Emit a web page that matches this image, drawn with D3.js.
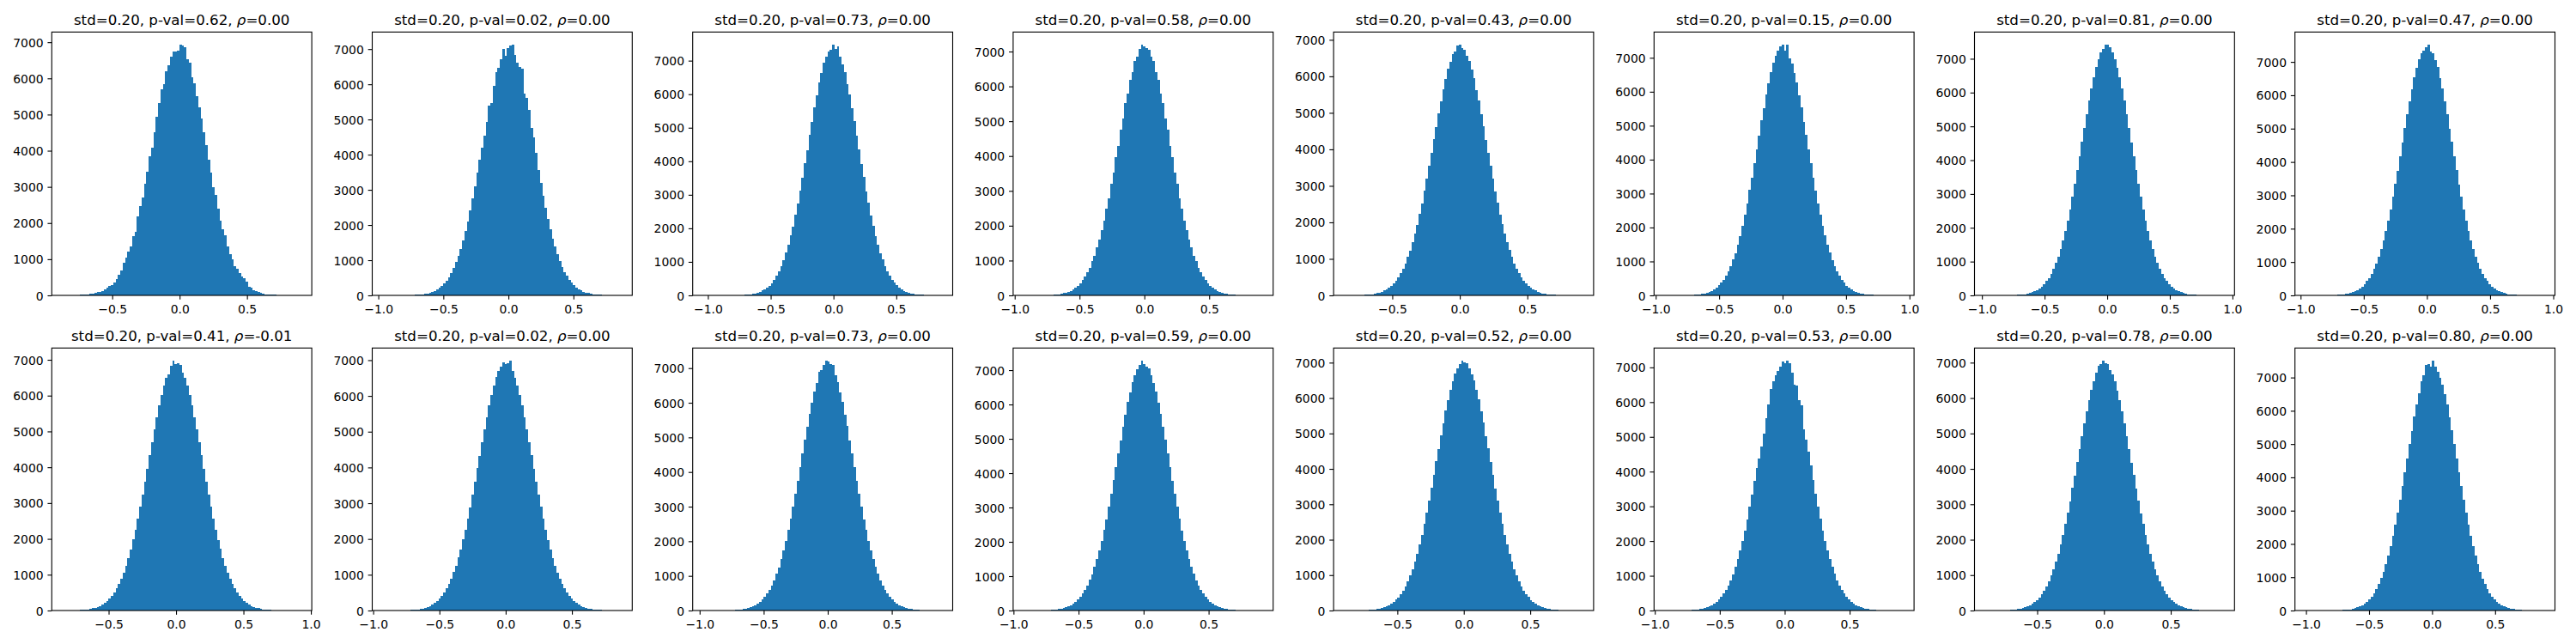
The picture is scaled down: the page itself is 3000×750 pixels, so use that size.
<!DOCTYPE html>
<html>
<head>
<meta charset="utf-8">
<script src="https://cdn.jsdelivr.net/npm/d3@7"></script>
<style>
  body { margin: 0; background: #fff; }
  svg { display: block; }
</style>
</head>
<body>
<div id="chart"></div>
<script>
// bin counts (100 bins per panel, left to right)
const hist01 = [1,0,1,2,3,5,10,14,20,25, 32,42,55,80,85,95,125,175,225,255, 290,355,450,570,690,900,1045,1200,1360,1640, 1760,2180,2470,2710,3090,3420,3840,4080,4510,4940, 5320,5700,5835,6190,6370,6590,6745,6745,6770,6935, 6920,6865,6530,6430,6030,5860,5500,5200,4900,4505, 4150,3740,3400,2985,2770,2390,2075,1840,1665,1345, 1150,1005,810,730,610,515,475,370,240,215, 150,120,95,80,50,30,25,20,15,12, 10,8,5,3,2,2,1,1,0,1];
const hist02 = [1,0,0,0,0,1,1,1,2,3, 5,6,9,13,18,24,33,43,58,76, 100,130,167,212,270,340,420,520,640,780, 940,1120,1330,1560,1820,2110,2420,2750,3110,3480, 3860,4200,4548,4932,5396,5469,5957,6348,6470,6714, 7007,6812,7031,7104,7129,6836,6616,6494,6445,5737, 5615,5273,4761,4492,4050,3560,3190,2830,2490,2180, 1890,1620,1380,1170,980,810,670,550,440,356, 284,225,176,137,106,81,62,46,35,25, 19,13,10,7,5,3,2,1,1,1];
const hist03 = [1,0,0,0,0,0,0,1,0,1, 1,2,3,5,7,10,12,19,24,33, 46,59,82,104,141,178,234,293,370,472, 585,710,880,1050,1280,1500,1780,2060,2410,2730, 3130,3500,3940,4330,4790,5170,5600,5960,6350,6620, 6930,7130,7270,7330,7480,7350,7430,7120,6900,6660, 6310,5990,5570,5200,4760,4360,3910,3530,3110,2760, 2380,2080,1760,1510,1260,1065,870,720,580,470, 372,300,230,182,137,107,80,61,44,34, 23,18,13,9,7,4,3,2,1,1];
const hist04 = [1,0,0,1,1,1,3,4,5,7, 9,12,19,24,35,44,62,77,106,131, 175,216,283,345,441,531,667,792,975,1140, 1378,1590,1885,2140,2495,2790,3200,3520,3965,4300, 4760,5080,5520,5800,6190,6420,6730,6850,7070,7200, 7150,7090,7050,6850,6720,6410,6190,5800,5510,5080, 4750,4300,3960,3520,3200,2790,2500,2140,1885,1590, 1380,1140,975,790,665,530,440,345,282,217, 174,131,105,77,61,44,35,24,19,12, 9,6,5,4,2,1,1,0,0,1];
const hist05 = [1,1,2,3,4,5,8,10,14,19, 25,35,44,60,77,100,132,163,211,262, 330,404,502,603,736,875,1050,1230,1455,1690, 1940,2230,2520,2860,3190,3550,3900,4280,4620,4990, 5310,5650,5920,6200,6400,6600,6690,6850,6870,6780, 6720,6570,6420,6180,5940,5630,5330,4970,4640,4260, 3910,3540,3200,2850,2535,2220,1950,1685,1450,1235, 1050,875,735,605,500,405,330,262,210,164, 131,100,79,58,46,33,26,18,14,10, 8,5,4,3,2,1,1,0,1,1];
const hist06 = [1,0,1,0,1,1,2,3,4,7, 9,12,18,23,34,45,58,81,104,136, 180,228,296,368,466,574,712,860,1050,1240, 1500,1750,2040,2380,2700,3100,3460,3890,4310,4700, 5150,5520,5930,6250,6580,6860,7050,7210,7330,7390, 7200,7390,6990,6840,6560,6280,5900,5540,5120,4730, 4290,3900,3470,3090,2710,2370,2040,1760,1485,1260, 1045,870,705,578,462,372,290,232,176,138, 104,81,58,46,32,25,17,13,9,7, 4,3,2,1,1,1,0,0,0,1];
const hist07 = [1,0,0,1,0,1,1,1,2,4, 5,7,11,14,21,29,37,53,70,91, 122,157,206,258,333,420,520,645,790,955, 1150,1380,1630,1905,2220,2550,2920,3300,3700,4110, 4540,4950,5360,5760,6120,6460,6750,6980,7180,7290, 7420,7420,7350,7200,6990,6740,6460,6120,5760,5360, 4950,4530,4120,3700,3300,2910,2550,2220,1910,1620, 1380,1150,960,785,645,520,420,330,262,204, 157,121,93,68,52,38,28,20,15,10, 7,5,4,2,1,1,1,0,0,1];
const hist08 = [1,0,0,0,1,1,1,2,2,4, 5,8,10,15,21,27,40,51,71,92, 125,158,207,262,338,425,525,650,800,965, 1170,1390,1650,1930,2250,2580,2950,3350,3740,4170, 4580,5020,5420,5830,6190,6550,6830,7080,7260,7330, 7450,7520,7300,7270,7060,6840,6520,6210,5820,5430, 5000,4600,4160,3750,3330,2960,2580,2240,1935,1640, 1395,1165,970,795,655,525,425,332,266,204, 161,121,94,69,53,38,29,20,15,10, 7,5,4,2,1,1,0,1,0,1];
const hist09 = [1,2,3,4,6,8,10,14,19,26, 35,46,60,78,103,130,167,210,268,330, 415,505,620,745,885,1060,1250,1470,1710,1980, 2260,2570,2890,3240,3600,3960,4330,4700,5050,5400, 5720,6010,6290,6500,6600,6830,6980,6870,6910,6860, 6630,6500,6280,6020,5730,5400,5060,4690,4340,3960, 3600,3240,2900,2565,2260,1975,1715,1470,1255,1060, 890,745,615,505,412,333,266,211,168,130, 102,78,60,46,35,26,19,14,10,8, 6,4,3,2,1,1,1,0,0,1];
const hist10 = [1,0,1,1,1,2,3,4,6,8, 11,13,19,27,34,47,59,80,104,131, 170,210,268,330,415,508,615,748,885,1070, 1250,1480,1710,1985,2255,2580,2890,3250,3600,3975, 4330,4710,5060,5410,5730,6030,6280,6520,6700,6830, 6940,6880,6920,6990,6700,6500,6300,6020,5740,5400, 5070,4700,4340,3960,3610,3240,2900,2575,2260,1980, 1710,1475,1255,1065,890,745,618,505,413,333, 268,212,168,131,103,79,60,46,35,26, 19,14,10,8,6,4,3,2,1,1];
const hist11 = [1,0,0,0,1,0,1,2,3,4, 6,8,11,16,21,30,40,51,68,91, 118,152,196,250,315,390,485,600,725,880, 1060,1250,1490,1740,2010,2320,2650,3000,3370,3750, 4130,4540,4930,5300,5680,6000,6330,6580,6900,6950, 7100,7220,7190,7110,7090,6790,6590,6310,6020,5660, 5320,4920,4540,4140,3740,3370,3000,2640,2320,2020, 1730,1490,1255,1060,875,730,592,488,390,316, 245,197,150,118,88,70,51,39,30,21, 16,11,8,6,4,3,2,1,1,1];
const hist12 = [1,0,1,1,1,2,3,4,6,9, 11,17,21,29,40,51,70,93,117,155, 195,252,315,392,488,604,730,890,1060,1270, 1490,1760,2020,2340,2660,3030,3390,3790,4170,4580, 4960,5360,5710,6070,6360,6650,6860,7030,7150,7280, 7180,7100,7050,6850,6630,6380,6050,5720,5350,4970, 4570,4180,3770,3400,3020,2670,2330,2035,1750,1500, 1265,1070,885,735,600,492,392,318,248,198, 152,119,90,70,51,40,28,22,16,12, 8,6,4,3,2,1,1,0,1,1];
const hist13 = [1,1,1,1,2,4,5,6,9,12, 17,23,29,40,53,69,92,118,150,192, 240,305,373,465,568,685,830,985,1170,1380, 1605,1860,2145,2440,2770,3100,3470,3820,4210,4570, 4950,5290,5640,5950,6240,6470,6690,6830,6960,7060, 7020,6980,6850,6680,6490,6230,5960,5630,5300,4930, 4580,4190,3830,3455,3110,2760,2445,2140,1865,1605, 1378,1165,990,825,688,565,462,376,302,242, 190,152,116,91,70,52,40,30,22,17, 12,9,6,5,3,2,1,1,0,1];
const hist14 = [1,0,1,1,1,2,3,4,6,8, 11,16,21,29,38,52,70,88,116,150, 196,248,310,390,485,595,725,876,1050,1250, 1480,1725,2010,2310,2630,2990,3350,3730,4092,4387, 4733,5102,5546,5940,6384,6606,6778,6902,7025,7173, 7116,7198,7124,6852,6507,6482,6064,5916,5226,4930, 4585,4166,3760,3360,2980,2640,2300,2010,1725,1480, 1250,1055,875,725,590,485,388,314,245,195, 150,118,89,68,52,38,29,21,16,11, 8,6,4,3,2,1,1,0,0,1];
const hist15 = [1,0,1,1,2,3,5,6,9,12, 17,23,30,39,53,71,90,118,151,190, 241,300,375,462,566,683,826,987,1165,1375, 1600,1860,2130,2440,2760,3090,3460,3810,4190,4560, 4930,5280,5630,5930,6220,6470,6720,6900,6950,7060, 6990,6950,6800,6660,6470,6210,5940,5620,5290,4920, 4570,4180,3820,3450,3100,2750,2440,2130,1860,1600, 1375,1165,985,826,683,565,460,375,300,241, 190,151,116,92,69,54,40,30,22,17, 12,9,6,5,3,2,1,1,0,1];
const hist16 = [1,0,0,0,0,0,0,0,1,1, 2,4,5,7,10,15,20,29,38,53, 70,92,123,158,207,266,334,420,528,650, 795,970,1160,1390,1645,1925,2240,2580,2940,3340, 3730,4150,4570,5010,5400,5820,6190,6530,6880,7060, 7380,7400,7330,7510,7330,7180,6990,6780,6510,6180, 5800,5410,5000,4570,4160,3730,3320,2950,2570,2240, 1925,1640,1390,1165,965,795,650,528,420,335, 265,205,160,122,92,70,52,39,28,21, 15,10,7,5,4,2,1,1,0,1];

// lowest and highest bin edge of each panel
const binLo = [-0.861, -0.956, -1.027, -0.921, -0.847, -0.920, -0.965, -0.951,
               -0.834, -0.918, -0.962, -0.912, -0.891, -0.915, -0.881, -0.994];
const binHi = [0.893, 0.861, 0.855, 0.902, 0.903, 0.943, 0.922, 0.920,
               0.919, 0.866, 0.883, 0.905, 0.888, 0.905, 0.889, 0.881];

// title parts
const stdLabel = "0.20";
const pvalLabels = ["0.62", "0.02", "0.73", "0.58", "0.43", "0.15", "0.81", "0.47",
                    "0.41", "0.02", "0.73", "0.59", "0.52", "0.53", "0.78", "0.80"];
const rhoLabels = ["0.00", "0.00", "0.00", "0.00", "0.00", "0.00", "0.00", "0.00",
                   "-0.01", "0.00", "0.00", "0.00", "0.00", "0.00", "0.00", "0.00"];

const histograms = [hist01, hist02, hist03, hist04, hist05, hist06, hist07, hist08,
                    hist09, hist10, hist11, hist12, hist13, hist14, hist15, hist16];

var width = 3000, height = 750;
var colLeft0 = 60.3, colStep = 373.2, axW = 302.8;
var rowTop = [37.3, 405.3], axH = [306.7, 305.7];
var barColor = "#1f77b4";
var font = "DejaVu Sans";
var lineW = 1.11, tickLen = 4.86, tickPad = 4.86;

var svg = d3.select("#chart").append("svg")
    .attr("width", width)
    .attr("height", height)
    .attr("viewBox", [0, 0, width, height])
    .style("background", "#fff");

histograms.forEach(function (counts, p) {
    var col = p % 8, row = Math.floor(p / 8);
    var left = colLeft0 + col * colStep, top = rowTop[row], h = axH[row];
    var lo = binLo[p], hi = binHi[p], span = hi - lo;
    var bw = span / counts.length;

    // same 5% side margins as the original plot
    var x = d3.scaleLinear()
        .domain([lo - 0.05 * span, hi + 0.05 * span])
        .range([0, axW]);
    var y = d3.scaleLinear()
        .domain([0, 1.05 * d3.max(counts)])
        .range([h, 0]);

    var g = svg.append("g").attr("transform", "translate(" + left + "," + top + ")");

    // bars
    g.append("g")
        .attr("shape-rendering", "crispEdges")
        .selectAll("rect")
        .data(counts)
        .join("rect")
        .attr("x", function (d, i) { return x(lo + i * bw); })
        .attr("width", function (d, i) { return x(lo + (i + 1) * bw) - x(lo + i * bw); })
        .attr("y", function (d) { return y(d); })
        .attr("height", function (d) { return y(0) - y(d); })
        .attr("fill", barColor);

    // x axis
    var gx = g.append("g")
        .attr("transform", "translate(0," + h + ")")
        .call(d3.axisBottom(x).ticks(4).tickFormat(d3.format(".1f"))
            .tickSize(tickLen).tickPadding(tickPad));
    // y axis
    var gy = g.append("g")
        .call(d3.axisLeft(y).ticks(8).tickFormat(d3.format("d"))
            .tickSize(tickLen).tickPadding(tickPad));

    [gx, gy].forEach(function (ax) {
        ax.select(".domain").remove();
        ax.attr("font-family", font).attr("font-size", 13.9);
        ax.selectAll(".tick line").attr("stroke", "#000").attr("stroke-width", lineW);
        ax.selectAll(".tick text").attr("fill", "#000");
    });
    gx.selectAll(".tick text").attr("dy", "0.78em");
    gy.selectAll(".tick text").attr("dy", "0.36em");

    // frame
    g.append("rect")
        .attr("width", axW)
        .attr("height", h)
        .attr("fill", "none")
        .attr("stroke", "#000")
        .attr("stroke-width", lineW);

    // title
    var title = g.append("text")
        .attr("x", axW / 2)
        .attr("y", -8.5)
        .attr("text-anchor", "middle")
        .attr("font-family", font)
        .attr("font-size", 16.67)
        .attr("fill", "#000");
    title.append("tspan").text("std=" + stdLabel + ", p-val=" + pvalLabels[p] + ", ");
    title.append("tspan").attr("font-style", "italic").text("\u03c1");
    title.append("tspan").text("=" + rhoLabels[p]);
});
</script>
</body>
</html>
